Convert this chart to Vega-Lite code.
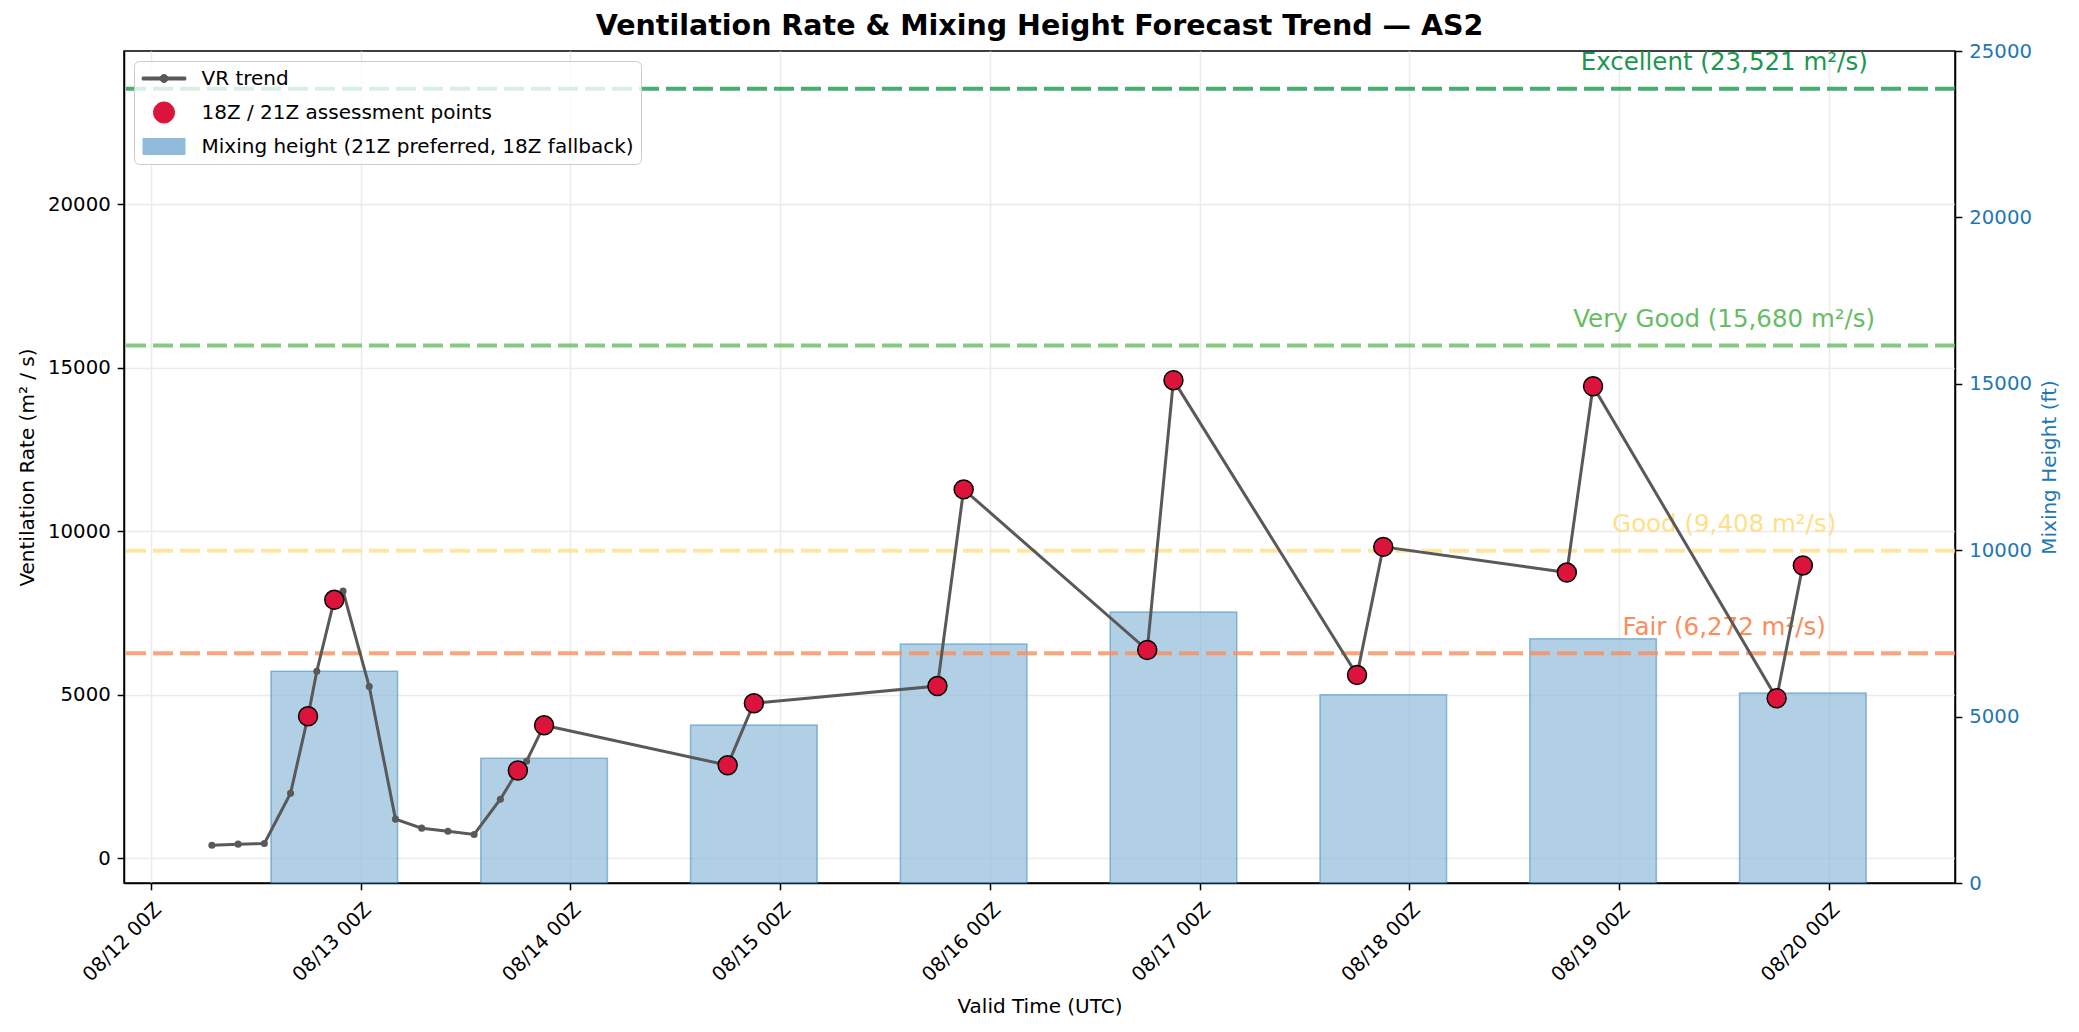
{
"$schema":"https://vega.github.io/schema/vega-lite/v6.json",
"width":1831,"height":832,
"autosize":{"type":"none"},
"padding":{"left":124,"top":51,"right":124,"bottom":149},
"background":"white",
"title":{"text":"Ventilation Rate & Mixing Height Forecast Trend — AS2","font":"DejaVu Sans","fontSize":28.5,"fontWeight":"bold","color":"black","anchor":"middle","frame":"group","baseline":"alphabetic","offset":12,"dy":34},
"datasets":{
 "mh":[
  {"t":"2025-08-12T21:00:00Z","mh":6360},
  {"t":"2025-08-13T21:00:00Z","mh":3750},
  {"t":"2025-08-14T21:00:00Z","mh":4745},
  {"t":"2025-08-15T21:00:00Z","mh":7185},
  {"t":"2025-08-16T21:00:00Z","mh":8140},
  {"t":"2025-08-17T21:00:00Z","mh":5655},
  {"t":"2025-08-18T21:00:00Z","mh":7340},
  {"t":"2025-08-19T21:00:00Z","mh":5710}
 ],
 "trend":[
  {"t":"2025-08-12T07:00:00Z","vr":407},
  {"t":"2025-08-12T10:00:00Z","vr":438},
  {"t":"2025-08-12T13:00:00Z","vr":458},
  {"t":"2025-08-12T16:00:00Z","vr":1996},
  {"t":"2025-08-12T18:00:00Z","vr":4348},
  {"t":"2025-08-12T19:00:00Z","vr":5723},
  {"t":"2025-08-12T21:00:00Z","vr":7905},
  {"t":"2025-08-12T22:00:00Z","vr":8170},
  {"t":"2025-08-13T01:00:00Z","vr":5254},
  {"t":"2025-08-13T04:00:00Z","vr":1202},
  {"t":"2025-08-13T07:00:00Z","vr":927},
  {"t":"2025-08-13T10:00:00Z","vr":835},
  {"t":"2025-08-13T13:00:00Z","vr":733},
  {"t":"2025-08-13T16:00:00Z","vr":1813},
  {"t":"2025-08-13T18:00:00Z","vr":2688},
  {"t":"2025-08-13T19:00:00Z","vr":2974},
  {"t":"2025-08-13T21:00:00Z","vr":4073},
  {"t":"2025-08-14T18:00:00Z","vr":2851},
  {"t":"2025-08-14T21:00:00Z","vr":4745},
  {"t":"2025-08-15T18:00:00Z","vr":5269},
  {"t":"2025-08-15T21:00:00Z","vr":11280},
  {"t":"2025-08-16T18:00:00Z","vr":6371},
  {"t":"2025-08-16T21:00:00Z","vr":14618},
  {"t":"2025-08-17T18:00:00Z","vr":5607},
  {"t":"2025-08-17T21:00:00Z","vr":9523},
  {"t":"2025-08-18T18:00:00Z","vr":8738},
  {"t":"2025-08-18T21:00:00Z","vr":14432},
  {"t":"2025-08-19T18:00:00Z","vr":4898},
  {"t":"2025-08-19T21:00:00Z","vr":8956}
 ],
 "assess":[
  {"t":"2025-08-12T18:00:00Z","vr":4348},
  {"t":"2025-08-12T21:00:00Z","vr":7905},
  {"t":"2025-08-13T18:00:00Z","vr":2688},
  {"t":"2025-08-13T21:00:00Z","vr":4073},
  {"t":"2025-08-14T18:00:00Z","vr":2851},
  {"t":"2025-08-14T21:00:00Z","vr":4745},
  {"t":"2025-08-15T18:00:00Z","vr":5269},
  {"t":"2025-08-15T21:00:00Z","vr":11280},
  {"t":"2025-08-16T18:00:00Z","vr":6371},
  {"t":"2025-08-16T21:00:00Z","vr":14618},
  {"t":"2025-08-17T18:00:00Z","vr":5607},
  {"t":"2025-08-17T21:00:00Z","vr":9523},
  {"t":"2025-08-18T18:00:00Z","vr":8738},
  {"t":"2025-08-18T21:00:00Z","vr":14432},
  {"t":"2025-08-19T18:00:00Z","vr":4898},
  {"t":"2025-08-19T21:00:00Z","vr":8956}
 ],
 "thr":[
  {"name":"Excellent","v":23521,"label":"Excellent (23,521 m²/s)"},
  {"name":"Very Good","v":15680,"label":"Very Good (15,680 m²/s)"},
  {"name":"Good","v":9408,"label":"Good (9,408 m²/s)"},
  {"name":"Fair","v":6272,"label":"Fair (6,272 m²/s)"}
 ]
},
"layer":[
 {
  "data":{"name":"mh"},
  "mark":{"type":"bar","width":126.6,"fillOpacity":0.7,"stroke":"#1f77b4","strokeOpacity":0.45,"strokeWidth":1.5},
  "encoding":{
   "x":{"field":"t","type":"temporal","title":"Valid Time (UTC)",
    "scale":{"type":"utc","domain":[{"year":2025,"month":8,"date":11,"hours":21,"minutes":31,"utc":true},{"year":2025,"month":8,"date":20,"hours":13,"minutes":50,"utc":true}]},
    "axis":{"values":[
      {"year":2025,"month":8,"date":12,"utc":true},
      {"year":2025,"month":8,"date":13,"utc":true},
      {"year":2025,"month":8,"date":14,"utc":true},
      {"year":2025,"month":8,"date":15,"utc":true},
      {"year":2025,"month":8,"date":16,"utc":true},
      {"year":2025,"month":8,"date":17,"utc":true},
      {"year":2025,"month":8,"date":18,"utc":true},
      {"year":2025,"month":8,"date":19,"utc":true},
      {"year":2025,"month":8,"date":20,"utc":true}],
     "labelExpr":"utcFormat(datum.value, '%m/%d %HZ')","labelAngle":315,"labelAlign":"right","labelBaseline":"top","grid":true,"labelPadding":9,"titlePadding":12,"labelOverlap":false,"labelFlush":false}},
   "y":{"field":"mh","type":"quantitative","title":"Mixing Height (ft)",
    "scale":{"domain":[0,25000],"nice":false},
    "axis":{"orient":"right","values":[0,5000,10000,15000,20000,25000],"format":"d","grid":false,"labelColor":"#1f77b4","titleColor":"#1f77b4","titleAngle":270,"titleBaseline":"top","titlePadding":8}},
   "color":{"datum":"Mixing height (21Z preferred, 18Z fallback)",
    "scale":{"domain":["VR trend","18Z / 21Z assessment points","Mixing height (21Z preferred, 18Z fallback)"],"range":["#595959","#dc143c","#90bada"]},
    "legend":{"title":null,"orient":"top-left","offset":10,"padding":7,"symbolSize":400,"symbolOpacity":1,"labelOffset":39.5,"rowPadding":10,"labelFontSize":20,"labelFont":"DejaVu Sans","labelColor":"black","fillColor":"rgba(255,255,255,0.8)","strokeColor":"#cccccc","cornerRadius":5,"labelLimit":0,"symbolStrokeWidth":1}
   }
  }
 },
 {
  "layer":[
   {
    "data":{"name":"thr"},
    "mark":{"type":"rule","strokeDash":[20,7],"strokeWidth":4,"strokeOpacity":0.8},
    "encoding":{
     "y":{"field":"v","type":"quantitative","title":"Ventilation Rate (m² / s)",
      "scale":{"domain":[-749,24677],"nice":false,"zero":false},
      "axis":{"values":[0,5000,10000,15000,20000],"format":"d","grid":true,"titlePadding":10}},
     "stroke":{"field":"name","type":"nominal","scale":{"domain":["Excellent","Very Good","Good","Fair"],"range":["#1a9850","#66bd63","#fee08b","#fc8d59"]},"legend":null}
    }
   },
   {
    "data":{"name":"thr"},
    "mark":{"type":"text","align":"center","baseline":"alphabetic","dy":-18.5,"fontSize":24.5,"font":"DejaVu Sans"},
    "encoding":{
     "x":{"datum":{"year":2025,"month":8,"date":19,"hours":12,"utc":true},"type":"temporal"},
     "y":{"field":"v","type":"quantitative"},
     "text":{"field":"label"},
     "fill":{"field":"name","type":"nominal","scale":{"domain":["Excellent","Very Good","Good","Fair"],"range":["#1a9850","#66bd63","#fee08b","#fc8d59"]},"legend":null}
    }
   },
   {
    "data":{"name":"trend"},
    "mark":{"type":"line","strokeWidth":3,"opacity":1,"point":{"filled":true,"size":50,"opacity":1,"color":"#333333"}},
    "encoding":{
     "x":{"field":"t","type":"temporal"},
     "y":{"field":"vr","type":"quantitative"},
     "color":{"datum":"VR trend"}
    }
   },
   {
    "data":{"name":"assess"},
    "mark":{"type":"point","filled":true,"size":360,"stroke":"black","strokeWidth":1.5,"opacity":1},
    "encoding":{
     "x":{"field":"t","type":"temporal"},
     "y":{"field":"vr","type":"quantitative"},
     "color":{"datum":"18Z / 21Z assessment points"}
    }
   },
   {
    "data":{"name":"assess"},
    "mark":{"type":"point","filled":true,"opacity":0},
    "encoding":{
     "x":{"field":"t","type":"temporal"},
     "y":{"field":"vr","type":"quantitative"},
     "shape":{"datum":"18Z / 21Z assessment points",
      "scale":{"domain":["VR trend","18Z / 21Z assessment points","Mixing height (21Z preferred, 18Z fallback)"],
       "range":["M-0.925,-0.15L3.425,-0.15L3.425,0.15L-0.925,0.15Z M0.85,0A0.4,0.4 0 1,1 1.65,0A0.4,0.4 0 1,1 0.85,0Z","M0.2,0A1.05,1.05 0 1,1 2.3,0A1.05,1.05 0 1,1 0.2,0Z","M-0.85,-0.8L3.35,-0.8L3.35,0.8L-0.85,0.8Z"]},
      "legend":{"title":null,"orient":"top-left","offset":10,"padding":7,"symbolSize":400,"symbolOpacity":1,"labelOffset":39.5,"rowPadding":10,"labelFontSize":20,"labelFont":"DejaVu Sans","labelColor":"black","fillColor":"rgba(255,255,255,0.8)","strokeColor":"#cccccc","cornerRadius":5,"labelLimit":0,"symbolStrokeWidth":1}}
    }
   }
  ]
 }
],
"resolve":{"scale":{"y":"independent"}},
"config":{
 "font":"DejaVu Sans",
 "view":{"stroke":"black","strokeWidth":1.5},
 "axis":{"labelFont":"DejaVu Sans","titleFont":"DejaVu Sans","labelFontSize":19.7,"titleFontSize":20,"titleFontWeight":"normal","labelColor":"black","titleColor":"black","tickColor":"black","domainColor":"black","tickSize":6.8,"tickWidth":1.5,"domainWidth":1.5,"labelPadding":7,"gridColor":"#ebebeb","gridWidth":1.5}
}
}
